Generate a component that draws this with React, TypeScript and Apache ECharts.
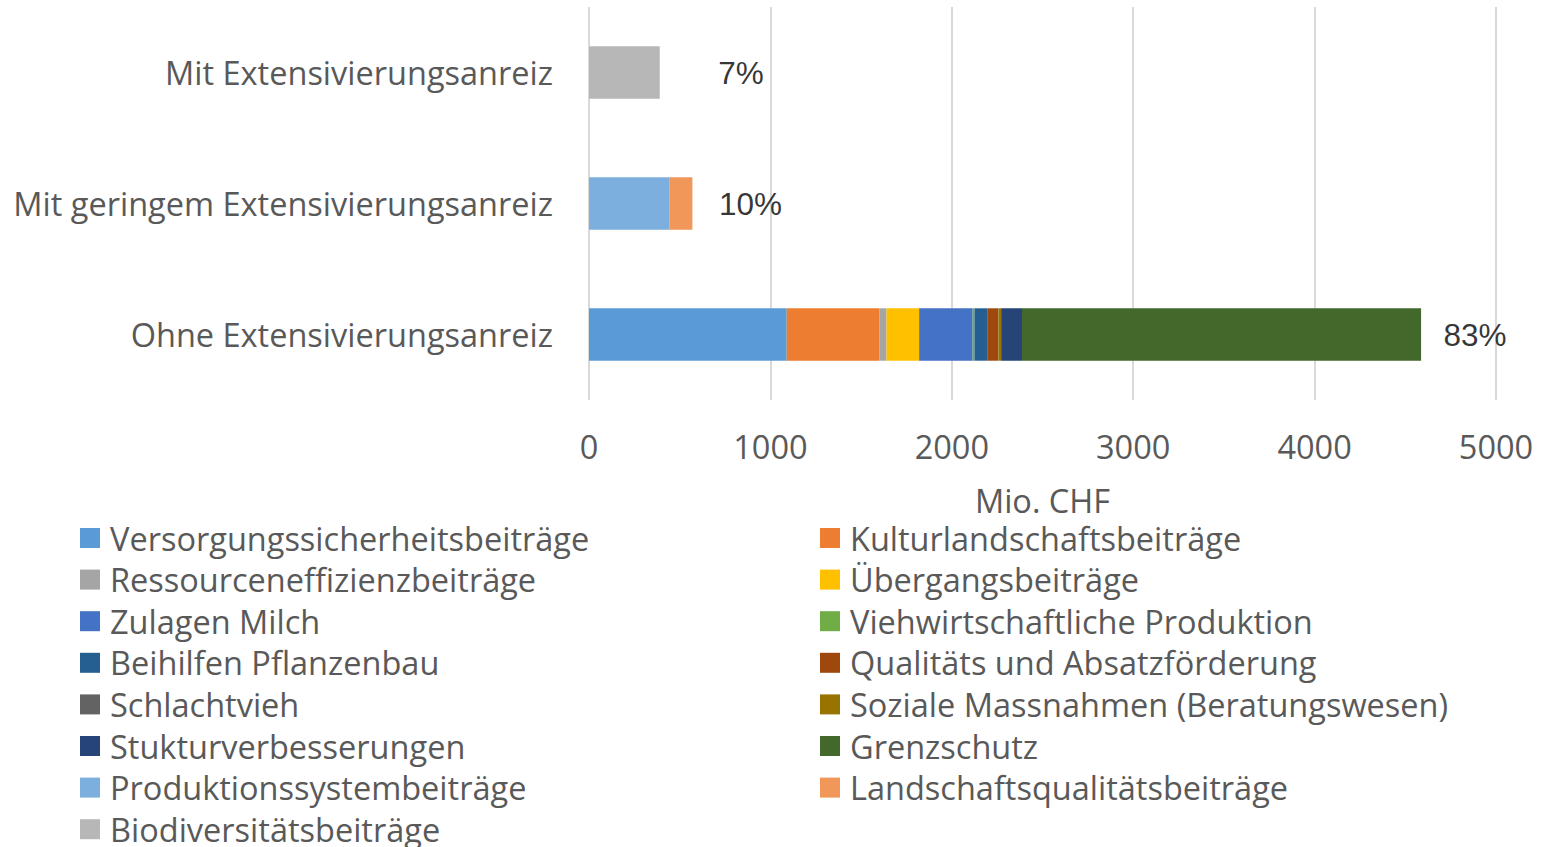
import React, { useEffect, useRef } from 'react';
import * as echarts from 'echarts';

const categories = [
  'Ohne Extensivierungsanreiz',
  'Mit geringem Extensivierungsanreiz',
  'Mit Extensivierungsanreiz',
];

const seriesNames = [
  'Versorgungssicherheitsbeiträge',
  'Kulturlandschaftsbeiträge',
  'Ressourceneffizienzbeiträge',
  'Übergangsbeiträge',
  'Zulagen Milch',
  'Viehwirtschaftliche Produktion',
  'Beihilfen Pflanzenbau',
  'Qualitäts und Absatzförderung',
  'Schlachtvieh',
  'Soziale Massnahmen (Beratungswesen)',
  'Stukturverbesserungen',
  'Grenzschutz',
  'Produktionssystembeiträge',
  'Landschaftsqualitätsbeiträge',
  'Biodiversitätsbeiträge',
];

const seriesColors = [
  '#5B9BD5', '#ED7D31', '#A5A5A5', '#FFC000', '#4472C4', '#70AD47', '#255E91',
  '#9E480E', '#636363', '#997300', '#264478', '#43682B', '#7CAFDD', '#F1975A', '#B7B7B7',
];

// values per series: [Ohne, Mit geringem, Mit]
const versorgung = [1090, 0, 0];
const kulturlandschaft = [510, 0, 0];
const ressourceneffizienz = [40, 0, 0];
const uebergang = [180, 0, 0];
const zulagenMilch = [295, 0, 0];
const viehwirtschaft = [10, 0, 0];
const beihilfenPflanzenbau = [70, 0, 0];
const qualitaet = [60, 0, 0];
const schlachtvieh = [2, 0, 0];
const sozialeMassnahmen = [15, 0, 0];
const strukturverbesserungen = [115, 0, 0];
const grenzschutz = [2200, 0, 0];
const produktionssystem = [0, 445, 0];
const landschaftsqualitaet = [0, 125, 0];
const biodiversitaet = [0, 0, 390];

const seriesValues = [
  versorgung, kulturlandschaft, ressourceneffizienz, uebergang, zulagenMilch,
  viehwirtschaft, beihilfenPflanzenbau, qualitaet, schlachtvieh, sozialeMassnahmen,
  strukturverbesserungen, grenzschutz, produktionssystem, landschaftsqualitaet, biodiversitaet,
];

const xTicks = { min: 0, max: 5000, interval: 1000 };

export default function App() {
  const ref = useRef<HTMLDivElement>(null);
  useEffect(() => {
    if (!ref.current) return;
    const chart = echarts.init(ref.current, null, { renderer: 'svg' });
    const font = 'Open Sans';
    const fs = 32.5;
    const gray = '#595959';
    const totals = categories.map((_, i) => seriesValues.reduce((s, arr) => s + arr[i], 0));
    const grand = totals.reduce((a, b) => a + b, 0);
    const labelGaps = [22, 26, 58];

    const barSeries = seriesNames.map((name, k) => ({
      name,
      type: 'bar',
      stack: 'total',
      barCategoryGap: '60%',
      itemStyle: { color: seriesColors[k] },
      data: seriesValues[k],
    }));

    const labelSeries = {
      name: 'pct',
      type: 'scatter',
      symbolSize: 1,
      itemStyle: { color: 'rgba(0,0,0,0)' },
      silent: true,
      data: totals.map((t, i) => ({
        value: [t, i],
        label: {
          show: true,
          position: 'right',
          distance: labelGaps[i],
          formatter: Math.round((t / grand) * 100) + '%',
          color: '#000',
          fontSize: 31.5,
          fontFamily: 'Liberation Sans',
        },
      })),
    };

    const leftNames = seriesNames.filter((_, i) => i % 2 === 0);
    const rightNames = seriesNames.filter((_, i) => i % 2 === 1);
    const legendCommon = {
      orient: 'vertical',
      top: 521,
      height: 400,
      padding: 0,
      itemWidth: 20,
      itemHeight: 20,
      itemGap: 7.6,
      icon: 'rect',
      selectedMode: false,
      textStyle: {
        color: gray,
        fontSize: fs,
        fontFamily: font,
        lineHeight: 34,
        padding: [0, 0, 0, 5],
      },
    };

    chart.setOption({
      animation: false,
      grid: { left: 589, top: 7, width: 907, height: 393, containLabel: false },
      legend: [
        { ...legendCommon, left: 80, data: leftNames },
        { ...legendCommon, left: 820, data: rightNames },
      ],
      xAxis: {
        type: 'value',
        ...xTicks,
        name: 'Mio. CHF',
        nameLocation: 'middle',
        nameGap: 84,
        nameTextStyle: { color: gray, fontSize: fs, fontFamily: font },
        axisLine: { show: false },
        axisTick: { show: false },
        splitLine: { show: true, lineStyle: { color: '#D9D9D9', width: 2 } },
        axisLabel: {
          color: gray,
          fontSize: fs,
          fontFamily: font,
          margin: 30,
          formatter: (v: number) => String(v),
        },
      },
      yAxis: {
        type: 'category',
        data: categories,
        axisLine: { show: false },
        axisTick: { show: false },
        axisLabel: { color: gray, fontSize: fs, fontFamily: font, margin: 36 },
      },
      series: [...barSeries, labelSeries],
    });
    return () => chart.dispose();
  }, []);
  return (
    <div
      ref={ref}
      style={{ position: 'fixed', left: 0, top: 0, width: 1554, height: 847, background: '#fff' }}
    />
  );
}
